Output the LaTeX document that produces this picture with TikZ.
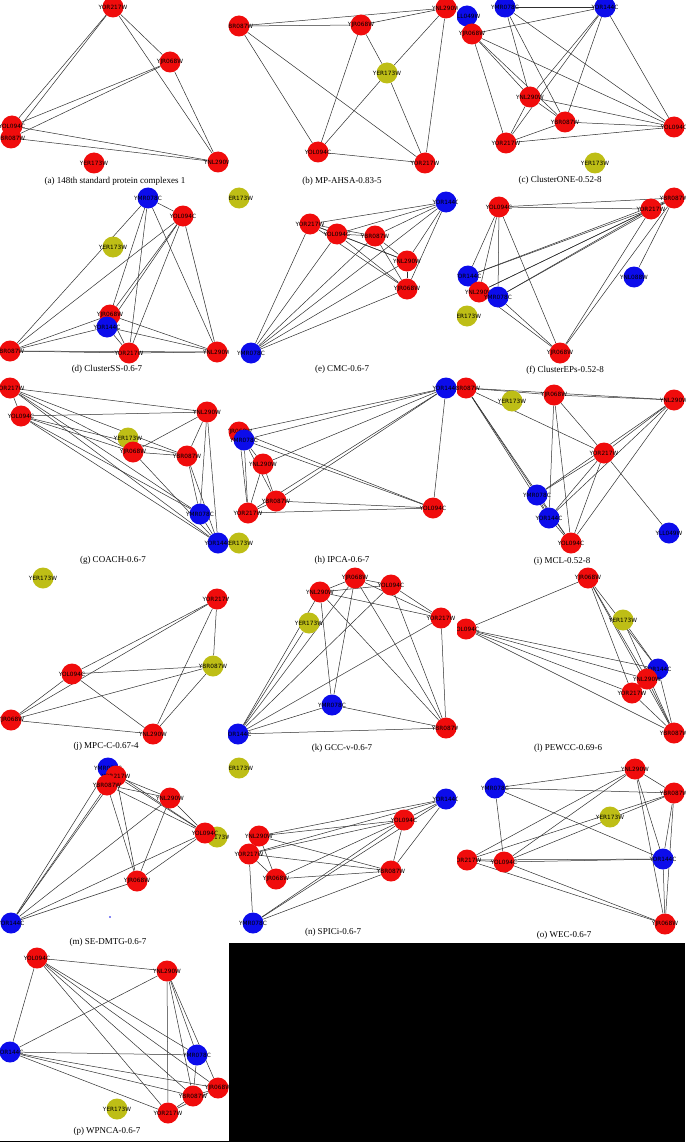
\documentclass[tikz,border=0pt]{standalone}
\usepackage{fontspec}
\setmainfont{Liberation Serif}
\setsansfont{DejaVu Sans}
\usepackage{tikz}
\usetikzlibrary{backgrounds}
\definecolor{protred}{RGB}{240,12,12}
\definecolor{protblue}{RGB}{12,12,235}
\definecolor{protyel}{RGB}{190,190,22}
\definecolor{wire}{gray}{0.18}

\begin{document}
\begin{tikzpicture}[x=1pt,y=-1pt,
  prot/.style={circle,minimum size=21pt,inner sep=0pt},
  rp/.style={prot,fill=protred},
  bp/.style={prot,fill=protblue},
  yp/.style={prot,fill=protyel},
  every label/.style={font=\sffamily\fontsize{5.8}{6}\selectfont,inner sep=0pt,text=black},
  edge/.style={draw=wire,line width=0.5pt},
  capt/.style={font=\fontsize{9}{10}\selectfont,inner sep=0pt}]
\useasboundingbox (0,0) rectangle (685,1142);

% (a) standard complex
\begin{scope}
\clip (0,-20) rectangle (228,1160);
\node[rp,label=center:YOR217W] (a217) at (113,7) {};
\node[rp,label=center:YJR068W] (a068) at (170,62) {};
\node[rp,label=center:YOL094C] (a094) at (12,126) {};
\node[rp,label=center:YBR087W] (a087) at (11,138) {};
\node[rp,label=center:YER173W] (a173) at (94,163) {};
\node[rp,label=center:YNL290W] (a290) at (218,162) {};
\node[capt] (acap) at (115,181) {(a) 148th standard protein complexes 1};
\end{scope}
\begin{pgfonlayer}{background}
\foreach \u/\v in {217/068,217/094,217/087,217/290,068/094,068/087,068/290,094/087,094/290,087/290}
  \draw[edge] (a\u) -- (a\v);
\end{pgfonlayer}

% (b) MP-AHSA
\begin{scope}
\clip (228,-20) rectangle (457,1160);
\node[rp,label=center:YBR087W] (b087) at (239,26) {};
\node[rp,label=center:YOL094C] (b094) at (318,152) {};
\node[rp,label=center:YNL290W] (b290) at (446,8) {};
\node[rp,label=center:YJR068W] (b068) at (361,25) {};
\node[yp,label=center:YER173W] (b173) at (387,73) {};
\node[rp,label=center:YOR217W] (b217) at (425,163) {};
\node[capt] (bcap) at (342,181) {(b) MP-AHSA-0.83-5};
\end{scope}
\begin{pgfonlayer}{background}
\foreach \u/\v in {087/290,087/068,087/094,087/217,068/290,068/094,068/173,290/173,290/217,173/094,173/217,094/217}
  \draw[edge] (b\u) -- (b\v);
\end{pgfonlayer}

% (c) ClusterONE
\begin{scope}
\clip (457,-20) rectangle (685,1160);
\node[bp,label=center:YMR078C] (c078) at (505,7) {};
\node[bp,label=center:YOR144C] (c144) at (605,7) {};
\node[bp,label=center:YLL049W] (c049) at (467,16) {};
\node[rp,label=center:YJR068W] (c068) at (472,34) {};
\node[rp,label=center:YNL290W] (c290) at (530,97) {};
\node[rp,label=center:YBR087W] (c087) at (565,122) {};
\node[rp,label=center:YOL094C] (c094) at (674,127) {};
\node[rp,label=center:YOR217W] (c217) at (506,143) {};
\node[yp,label=center:YER173W] (c173) at (595,163) {};
\node[capt] (ccap) at (560,180) {(c) ClusterONE-0.52-8};
\end{scope}
\begin{pgfonlayer}{background}
\foreach \u/\v in {078/144,078/290,078/087,078/094,144/068,144/290,144/087,144/217,144/094,049/068,068/290,068/087,068/094,068/217,290/087,290/094,290/217,087/094,087/217,217/094}
  \draw[edge] (c\u) -- (c\v);
\end{pgfonlayer}

% (d) ClusterSS
\begin{scope}
\clip (0,-20) rectangle (228,1160);
\node[bp,label=center:YMR078C] (d078) at (148,198) {};
\node[rp,label=center:YOL094C] (d094) at (183,216) {};
\node[yp,label=center:YER173W] (d173) at (113,247) {};
\node[rp,label=center:YJR068W] (d068) at (110,315) {};
\node[bp,label=center:YOR144C] (d144) at (107,327) {};
\node[rp,label=center:YBR087W] (d087) at (10,351) {};
\node[rp,label=center:YOR217W] (d217) at (129,353) {};
\node[rp,label=center:YNL290W] (d290) at (217,352) {};
\node[capt] (dcap) at (107,369) {(d) ClusterSS-0.6-7};
\end{scope}
\begin{pgfonlayer}{background}
\foreach \u/\v in {078/094,078/087,078/068,078/217,078/290,094/087,094/068,094/144,094/217,094/290,068/087,068/217,068/290,144/087,144/217,144/290,087/217,087/290,217/290}
  \draw[edge] (d\u) -- (d\v);
\end{pgfonlayer}

% (e) CMC
\begin{scope}
\clip (228,-20) rectangle (457,1160);
\node[yp,label=center:YER173W] (e173) at (239,198) {};
\node[rp,label=center:YOR217W] (e217) at (310,224) {};
\node[rp,label=center:YOL094C] (e094) at (337,234) {};
\node[bp,label=center:YMR078C] (e078) at (251,353) {};
\node[bp,label=center:YOR144C] (e144) at (446,202) {};
\node[rp,label=center:YBR087W] (e087) at (375,236) {};
\node[rp,label=center:YNL290W] (e290) at (407,261) {};
\node[rp,label=center:YJR068W] (e068) at (407,289) {};
\node[capt] (ecap) at (342,369) {(e) CMC-0.6-7};
\end{scope}
\begin{pgfonlayer}{background}
\foreach \u/\v in {078/217,078/094,078/087,078/290,078/068,078/144,144/217,144/094,144/087,144/290,144/068,217/094,217/087,217/290,217/068,094/087,094/290,094/068,087/290,087/068,290/068}
  \draw[edge] (e\u) -- (e\v);
\end{pgfonlayer}

% (f) ClusterEPs
\begin{scope}
\clip (457,-20) rectangle (685,1160);
\node[rp,label=center:YOL094C] (f094) at (499,207) {};
\node[rp,label=center:YBR087W] (f087) at (674,198) {};
\node[rp,label=center:YOR217W] (f217) at (651,209) {};
\node[bp,label=center:YOR144C] (f144) at (468,276) {};
\node[rp,label=center:YNL290W] (f290) at (479,292) {};
\node[bp,label=center:YMR078C] (f078) at (498,297) {};
\node[bp,label=center:YNL088W] (f088) at (634,277) {};
\node[yp,label=center:YER173W] (f173) at (467,316) {};
\node[rp,label=center:YJR068W] (f068) at (560,353) {};
\node[capt] (fcap) at (565,370) {(f) ClusterEPs-0.52-8};
\end{scope}
\begin{pgfonlayer}{background}
\foreach \u/\v in {094/087,094/217,094/144,094/290,094/078,094/068,087/217,087/144,087/290,087/078,087/088,087/068,217/144,217/290,217/078,217/068,144/290,078/068,290/068,144/078}
  \draw[edge] (f\u) -- (f\v);
\end{pgfonlayer}

% (g) COACH
\begin{scope}
\clip (0,-20) rectangle (228,1160);
\node[rp,label=center:YOR217W] (g217) at (10,388) {};
\node[rp,label=center:YOL094C] (g094) at (21,416) {};
\node[rp,label=center:YNL290W] (g290) at (207,412) {};
\node[yp,label=center:YER173W] (g173) at (128,438) {};
\node[rp,label=center:YJR068W] (g068) at (133,452) {};
\node[rp,label=center:YBR087W] (g087) at (187,456) {};
\node[bp,label=center:YMR078C] (g078) at (200,514) {};
\node[bp,label=center:YOR144C] (g144) at (218,543) {};
\node[capt] (gcap) at (113,560) {(g) COACH-0.6-7};
\end{scope}
\begin{pgfonlayer}{background}
\foreach \u/\v in {217/094,217/290,217/068,217/087,217/078,217/144,094/290,094/068,094/087,094/078,094/144,290/068,290/087,290/078,290/144,068/087,068/144,087/078,087/144,078/144}
  \draw[edge] (g\u) -- (g\v);
\end{pgfonlayer}

% (h) IPCA
\begin{scope}
\clip (228,-20) rectangle (457,1160);
\node[rp,label=center:YJR068W] (h068) at (239,432) {};
\node[bp,label=center:YMR078C] (h078) at (244,440) {};
\node[rp,label=center:YNL290W] (h290) at (263,464) {};
\node[rp,label=center:YBR087W] (h087) at (276,501) {};
\node[rp,label=center:YOR217W] (h217) at (248,513) {};
\node[yp,label=center:YER173W] (h173) at (239,543) {};
\node[bp,label=center:YOR144C] (h144) at (446,388) {};
\node[rp,label=center:YOL094C] (h094) at (433,508) {};
\node[capt] (hcap) at (342,560) {(h) IPCA-0.6-7};
\end{scope}
\begin{pgfonlayer}{background}
\foreach \u/\v in {144/068,144/078,144/290,144/087,144/217,144/094,094/068,094/078,094/087,094/217,068/078,068/217,078/290,078/087,290/087,290/217,087/217,078/217}
  \draw[edge] (h\u) -- (h\v);
\end{pgfonlayer}

% (i) MCL
\begin{scope}
\clip (457,-20) rectangle (685,1160);
\node[rp,label=center:YBR087W] (i087) at (466,388) {};
\node[yp,label=center:YER173W] (i173) at (512,401) {};
\node[rp,label=center:YJR068W] (i068) at (554,395) {};
\node[rp,label=center:YNL290W] (i290) at (674,400) {};
\node[rp,label=center:YOR217W] (i217) at (604,453) {};
\node[bp,label=center:YMR078C] (i078) at (537,495) {};
\node[bp,label=center:YOR144C] (i144) at (549,518) {};
\node[rp,label=center:YOL094C] (i094) at (571,543) {};
\node[bp,label=center:YLL049W] (i049) at (669,533) {};
\node[capt] (icap) at (562,561) {(i) MCL-0.52-8};
\end{scope}
\begin{pgfonlayer}{background}
\foreach \u/\v in {087/068,087/290,087/217,087/078,087/144,087/094,068/290,068/217,068/144,068/094,290/217,290/078,290/144,290/094,217/078,217/144,217/094,217/049,078/144,144/094,078/094}
  \draw[edge] (i\u) -- (i\v);
\end{pgfonlayer}

% (j) MPC-C
\begin{scope}
\clip (0,-20) rectangle (228,1160);
\node[yp,label=center:YER173W] (j173) at (43,578) {};
\node[rp,label=center:YOR217W] (j217) at (217,599) {};
\node[yp,label=center:YBR087W] (j087) at (213,666) {};
\node[rp,label=center:YOL094C] (j094) at (72,674) {};
\node[rp,label=center:YJR068W] (j068) at (11,720) {};
\node[rp,label=center:YNL290W] (j290) at (153,734) {};
\node[capt] (jcap) at (106,746) {(j) MPC-C-0.67-4};
\end{scope}
\begin{pgfonlayer}{background}
\foreach \u/\v in {217/094,217/068,217/290,217/087,094/087,094/068,094/290,068/087,068/290,290/087}
  \draw[edge] (j\u) -- (j\v);
\end{pgfonlayer}

% (k) GCC-v
\begin{scope}
\clip (228,-20) rectangle (457,1160);
\node[rp,label=center:YNL290W] (k290) at (320,592) {};
\node[yp,label=center:YER173W] (k173) at (309,623) {};
\node[bp,label=center:YMR078C] (k078) at (332,705) {};
\node[bp,label=center:YOR144C] (k144) at (238,734) {};
\node[rp,label=center:YJR068W] (k068) at (355,578) {};
\node[rp,label=center:YOL094C] (k094) at (391,585) {};
\node[rp,label=center:YOR217W] (k217) at (441,618) {};
\node[rp,label=center:YBR087W] (k087) at (446,728) {};
\node[capt] (kcap) at (342,748) {(k) GCC-v-0.6-7};
\end{scope}
\begin{pgfonlayer}{background}
\foreach \u/\v in {290/068,290/094,290/217,290/078,290/087,290/144,173/144,068/094,068/217,068/087,068/144,094/217,094/087,094/144,217/087,217/144,078/144,078/087,144/087,068/078}
  \draw[edge] (k\u) -- (k\v);
\end{pgfonlayer}

% (l) PEWCC
\begin{scope}
\clip (457,-20) rectangle (685,1160);
\node[rp,label=center:YJR068W] (l068) at (588,578) {};
\node[rp,label=center:YOL094C] (l094) at (466,629) {};
\node[yp,label=center:YER173W] (l173) at (623,620) {};
\node[bp,label=center:YOR144C] (l144) at (658,669) {};
\node[rp,label=center:YNL290W] (l290) at (647,679) {};
\node[rp,label=center:YOR217W] (l217) at (632,693) {};
\node[rp,label=center:YBR087W] (l087) at (674,733) {};
\node[capt] (lcap) at (568,748) {(l) PEWCC-0.69-6};
\end{scope}
\begin{pgfonlayer}{background}
\foreach \u/\v in {068/094,068/144,068/290,068/217,068/087,094/144,094/290,094/217,094/087,173/144,173/087,290/144,290/217,290/087,217/087,144/087,144/217}
  \draw[edge] (l\u) -- (l\v);
\end{pgfonlayer}

% (m) SE-DMTG
\begin{scope}
\clip (0,-20) rectangle (228,1160);
\node[bp,label=center:YMR078C] (m078) at (108,768) {};
\node[rp,label=center:YOR217W] (m217) at (116,776) {};
\node[rp,label=center:YBR087W] (m087) at (107,785) {};
\node[rp,label=center:YNL290W] (m290) at (170,798) {};
\node[yp,label=center:YER173W] (m173) at (217,837) {};
\node[rp,label=center:YOL094C] (m094) at (205,833) {};
\node[rp,label=center:YJR068W] (m068) at (137,881) {};
\node[bp,label=center:YOR144C] (m144) at (11,923) {};
\fill[protblue] (110,917) circle (0.8);
\node[capt] (mcap) at (108,942) {(m) SE-DMTG-0.6-7};
\end{scope}
\begin{pgfonlayer}{background}
\foreach \u/\v in {217/290,217/094,217/068,217/144,087/290,087/094,087/068,087/144,078/094,078/144,290/094,290/068,290/144,094/068,094/144,068/144}
  \draw[edge] (m\u) -- (m\v);
\end{pgfonlayer}

% (n) SPICi
\begin{scope}
\clip (228,-20) rectangle (457,1160);
\node[yp,label=center:YER173W] (n173) at (239,768) {};
\node[rp,label=center:YNL290W] (n290) at (259,836) {};
\node[rp,label=center:YOR217W] (n217) at (249,854) {};
\node[rp,label=center:YJR068W] (n068) at (276,879) {};
\node[bp,label=center:YMR078C] (n078) at (253,923) {};
\node[bp,label=center:YOR144C] (n144) at (446,799) {};
\node[rp,label=center:YOL094C] (n094) at (404,820) {};
\node[rp,label=center:YBR087W] (n087) at (391,871) {};
\node[capt] (ncap) at (333,932) {(n) SPICi-0.6-7};
\end{scope}
\begin{pgfonlayer}{background}
\foreach \u/\v in {290/144,290/094,290/087,290/217,290/068,217/144,217/094,217/087,217/068,217/078,068/094,068/087,078/094,078/144,078/087,144/094,144/087,094/087}
  \draw[edge] (n\u) -- (n\v);
\end{pgfonlayer}

% (o) WEC
\begin{scope}
\clip (457,-20) rectangle (685,1160);
\node[rp,label=center:YNL290W] (o290) at (635,769) {};
\node[bp,label=center:YMR078C] (o078) at (495,788) {};
\node[rp,label=center:YBR087W] (o087) at (674,793) {};
\node[yp,label=center:YER173W] (o173) at (610,817) {};
\node[rp,label=center:YOR217W] (o217) at (467,860) {};
\node[rp,label=center:YOL094C] (o094) at (504,862) {};
\node[bp,label=center:YOR144C] (o144) at (663,859) {};
\node[rp,label=center:YJR068W] (o068) at (665,924) {};
\node[capt] (ocap) at (564,935) {(o) WEC-0.6-7};
\end{scope}
\begin{pgfonlayer}{background}
\foreach \u/\v in {290/078,290/217,290/094,290/087,290/144,290/068,078/087,078/094,078/144,087/217,087/094,087/144,087/068,217/094,217/144,217/068,094/144,094/068,144/068}
  \draw[edge] (o\u) -- (o\v);
\end{pgfonlayer}

% (p) WPNCA
\begin{scope}
\clip (0,-20) rectangle (229,1160);
\node[rp,label=center:YOL094C] (p094) at (37,958) {};
\node[rp,label=center:YNL290W] (p290) at (167,971) {};
\node[bp,label=center:YOR144C] (p144) at (10,1052) {};
\node[bp,label=center:YMR078C] (p078) at (197,1055) {};
\node[rp,label=center:YJR068W] (p068) at (218,1088) {};
\node[rp,label=center:YBR087W] (p087) at (193,1096) {};
\node[rp,label=center:YOR217W] (p217) at (168,1113) {};
\node[yp,label=center:YER173W] (p173) at (117,1109) {};
\node[capt] (pcap) at (107,1131) {(p) WPNCA-0.6-7};
\end{scope}
\begin{pgfonlayer}{background}
\foreach \u/\v in {094/290,094/144,094/078,094/068,094/087,094/217,290/144,290/078,290/068,290/087,290/217,144/078,144/068,144/087,144/217,078/087,068/087,068/217,087/217}
  \draw[edge] (p\u) -- (p\v);
\end{pgfonlayer}

% empty corner and rule
\fill[black] (229,943) rectangle (685,1142);
\draw[line width=1pt] (0,1141) -- (229,1141);
\end{tikzpicture}
\end{document}
